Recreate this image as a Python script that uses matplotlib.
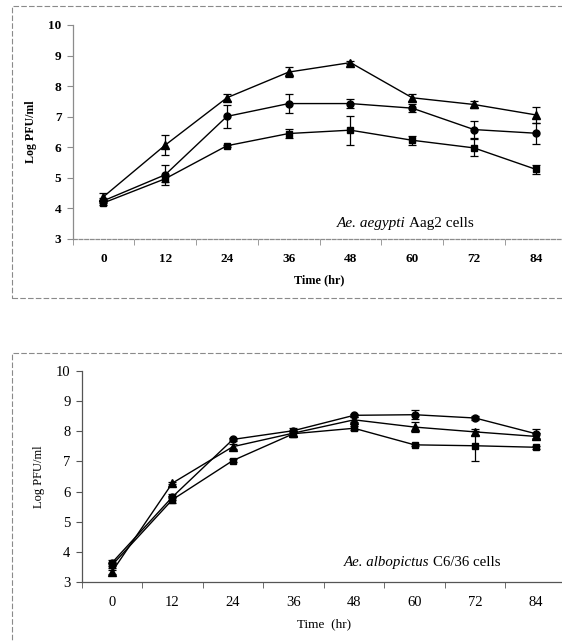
"""Virus growth curves in two mosquito cell lines.

Three virus strains, titred every 12 h for 84 h, plotted as Log PFU/ml
with standard-deviation error bars (Excel-style category axis).
"""

import matplotlib.pyplot as plt
from matplotlib.patches import Rectangle
import numpy as np

plt.rcParams.update(
    {
        'font.family': ['Liberation Serif', 'DejaVu Serif'],
        'axes.linewidth': 0.9,
    }
)

TIME_LABELS = ['0', '12', '24', '36', '48', '60', '72', '84']

# Ae. aegypti Aag2 cells
AAG2_TRIANGLE = [4.38, 6.07, 7.62, 8.46, 8.77, 7.62, 7.40, 7.06]
AAG2_TRIANGLE_ERR = [0.14, 0.33, 0.12, 0.15, 0.05, 0.12, 0.10, 0.25]
AAG2_CIRCLE = [4.25, 5.10, 7.01, 7.43, 7.43, 7.28, 6.58, 6.46]
AAG2_CIRCLE_ERR = [0.08, 0.32, 0.37, 0.31, 0.16, 0.12, 0.28, 0.35]
AAG2_SQUARE = [4.18, 4.97, 6.05, 6.45, 6.56, 6.23, 5.98, 5.28]
AAG2_SQUARE_ERR = [0.06, 0.10, 0.03, 0.14, 0.47, 0.15, 0.28, 0.15]

# Ae. albopictus C6/36 cells
C636_CIRCLE = [3.63, 5.82, 7.73, 8.02, 8.53, 8.55, 8.44, 7.92]
C636_CIRCLE_ERR = [0.10, 0.10, 0.05, 0.08, 0.05, 0.15, 0.06, 0.15]
C636_TRIANGLE = [3.33, 6.28, 7.49, 7.94, 8.38, 8.14, 7.98, 7.83]
C636_TRIANGLE_ERR = [0.06, 0.04, 0.08, 0.08, 0.08, 0.18, 0.10, 0.10]
C636_SQUARE = [3.55, 5.73, 7.03, 7.92, 8.10, 7.55, 7.52, 7.47]
C636_SQUARE_ERR = [0.08, 0.12, 0.05, 0.08, 0.06, 0.04, 0.50, 0.05]

FIG_W, FIG_H = 562, 641


def _px_rect(left, top, right, bottom):
    """Pixel box (origin top-left) -> figure-fraction [l, b, w, h]."""
    return [left / FIG_W, 1 - bottom / FIG_H, (right - left) / FIG_W, (bottom - top) / FIG_H]


def _draw_series(ax, values, errors, marker, size):
    x = np.arange(len(values))
    ax.errorbar(
        x,
        values,
        yerr=errors,
        color='black',
        marker=marker,
        markersize=size,
        linewidth=1.0,
        elinewidth=0.9,
        capsize=3,
        capthick=0.9,
        zorder=3,
    )


def _style_axes(ax, weight, tick_size, axis_color):
    n = len(TIME_LABELS)
    ax.set_xlim(-0.5, n - 0.5)
    ax.set_ylim(3, 10)
    ax.set_yticks(range(3, 11))
    ax.set_xticks(range(n))
    ax.set_xticklabels(TIME_LABELS)
    # category boundaries get the tick marks, labels sit between them
    ax.set_xticks(np.arange(-0.5, n, 1.0), minor=True)
    ax.tick_params(axis='x', which='major', length=0, pad=10)
    ax.tick_params(axis='x', which='minor', length=4, direction='out', color=axis_color)
    ax.tick_params(axis='y', length=4, direction='out', color=axis_color, pad=4)
    for label in ax.get_xticklabels() + ax.get_yticklabels():
        label.set_fontsize(tick_size)
        label.set_fontweight(weight)
    for side in ('top', 'right'):
        ax.spines[side].set_visible(False)
    for side in ('left', 'bottom'):
        ax.spines[side].set_color(axis_color)
    ax.spines['bottom'].set_clip_on(False)


def _cell_label(ax, x, y, italic, plain, size):
    ax.text(x, y, italic + ' ', style='italic', ha='right', va='center', fontsize=size)
    ax.text(x, y, plain, ha='left', va='center', fontsize=size)


def main():
    fig = plt.figure(figsize=(FIG_W / 100, FIG_H / 100), dpi=100)

    # faint frames round each panel
    frame_style = dict(fill=False, edgecolor='#8a8a8a', linewidth=0.8,
                       linestyle=(0, (5, 2)), transform=fig.transFigure)
    fig.patches.append(Rectangle((12 / FIG_W, 1 - 298 / FIG_H), 1.0, 292 / FIG_H, **frame_style))
    fig.patches.append(Rectangle((12 / FIG_W, -0.02), 1.0, (FIG_H - 353) / FIG_H + 0.02, **frame_style))

    top = fig.add_axes(_px_rect(72.5, 25, 566.6, 239))
    _draw_series(top, AAG2_TRIANGLE, AAG2_TRIANGLE_ERR, '^', 5.5)
    _draw_series(top, AAG2_CIRCLE, AAG2_CIRCLE_ERR, 'o', 5.0)
    _draw_series(top, AAG2_SQUARE, AAG2_SQUARE_ERR, 's', 5.0)
    _style_axes(top, 'bold', 9.5, '#8c8c8c')
    top.spines['bottom'].set_linestyle((0, (3, 1.5)))
    top.set_xlabel('Time (hr)', fontsize=8.8, fontweight='bold', labelpad=7)
    top.set_ylabel('Log PFU/ml', fontsize=8.6, fontweight='bold', labelpad=8)
    _cell_label(top, 4.95, 3.52, 'Ae. aegypti', 'Aag2 cells', 11)

    bottom = fig.add_axes(_px_rect(81.5, 371, 566, 582))
    _draw_series(bottom, C636_CIRCLE, C636_CIRCLE_ERR, 'o', 5.0)
    _draw_series(bottom, C636_TRIANGLE, C636_TRIANGLE_ERR, '^', 5.5)
    _draw_series(bottom, C636_SQUARE, C636_SQUARE_ERR, 's', 5.0)
    _style_axes(bottom, 'normal', 10.5, '#555555')
    bottom.set_xlabel('Time  (hr)', fontsize=9.5, labelpad=7)
    bottom.set_ylabel('Log PFU/ml', fontsize=9, labelpad=8)
    _cell_label(bottom, 5.3, 3.66, 'Ae. albopictus', 'C6/36 cells', 10.7)

    fig.savefig('out.png', dpi=100)


if __name__ == '__main__':
    main()
